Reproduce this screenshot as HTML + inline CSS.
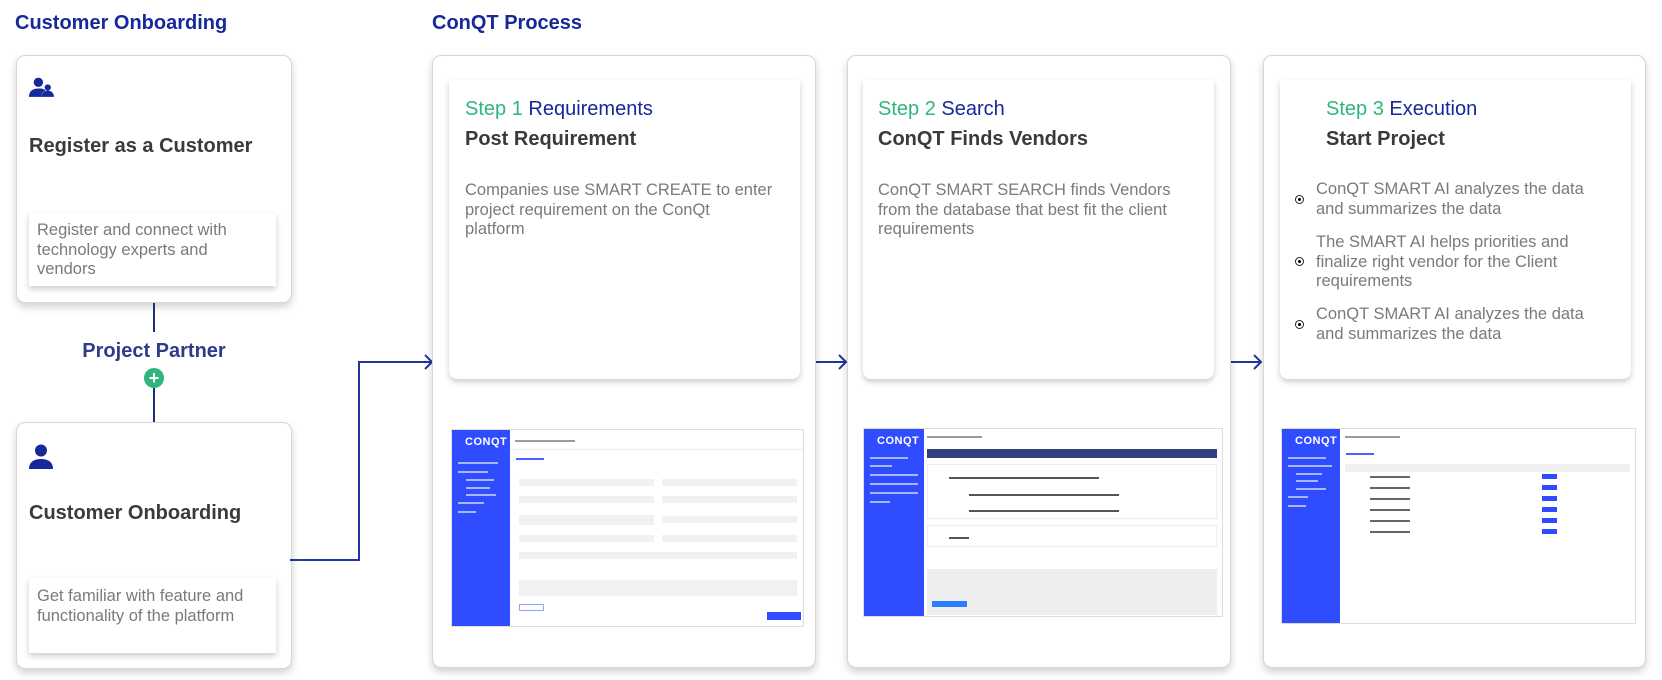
<!DOCTYPE html>
<html><head><meta charset="utf-8"><style>
*{box-sizing:border-box;margin:0;padding:0}
body{width:1662px;height:680px;background:#fff;font-family:"Liberation Sans",sans-serif;position:relative;overflow:hidden}
.a{position:absolute}
.h{color:#16299a;font-weight:bold;font-size:20px}
.card{position:absolute;background:#fff;border:1px solid #d6d6d6;border-radius:9px;box-shadow:0 4px 8px rgba(0,0,0,.18)}
.inner{position:absolute;background:#fff;box-shadow:0 3px 6px rgba(0,0,0,.2)}
.t{position:absolute;font-weight:bold;font-size:20px;color:#3a3a3a;white-space:nowrap}
.b{position:absolute;font-size:16.5px;line-height:19.5px;color:#7a7a7a}
.step{position:absolute;font-size:20px;white-space:nowrap}
.g{color:#2eb67d}.bl{color:#16299a}
.shot{position:absolute;background:#fff;border:1px solid #ddd;overflow:hidden}
.side{position:absolute;left:0;top:0;bottom:0;background:#2f4dff}
.logo{position:absolute;color:#fff;font-weight:bold;font-size:11px;letter-spacing:.5px}
.si{position:absolute;left:6px;height:2px;background:#c9d2ff;opacity:.8}
.fld{position:absolute;background:#f1f1f1;height:7px}
.lb{position:absolute;background:#ccc;height:2px}
.bul{position:absolute;width:9px;height:9px;border:1px solid #222;border-radius:50%}
.bul:after{content:"";position:absolute;left:2px;top:2px;width:3px;height:3px;background:#000;border-radius:50%}
</style></head><body>
<div class="a h" style="left:15px;top:12px">Customer Onboarding</div>
<div class="a h" style="left:432px;top:12px">ConQT Process</div>

<div class="card" style="left:16px;top:55px;width:276px;height:248px"></div>
<svg class="a" style="left:29px;top:77px" width="25" height="21" viewBox="0 0 24 20"><circle cx="9" cy="5" r="4.5" fill="#16299a"/><path d="M0 19c0-6 4-8 9-8s6 1 7 2c-3 1-4 3-4 6z" fill="#16299a"/><circle cx="18" cy="10" r="3" fill="#16299a"/><path d="M12 19c0-4 3-6 6-6s6 2 6 6z" fill="#16299a"/></svg>
<div class="t" style="left:29px;top:135px">Register as a Customer</div>
<div class="inner" style="left:29px;top:213px;width:247px;height:73px"></div>
<div class="b" style="left:37px;top:221px;width:222px">Register and connect with technology experts and vendors</div>

<div class="a" style="left:153px;top:303px;width:2px;height:29px;background:#1f2e7a"></div>
<div class="a" style="left:54px;top:340px;width:200px;text-align:center;font-weight:bold;font-size:20px;color:#2d3b8a">Project Partner</div>
<div class="a" style="left:144px;top:368px;width:20px;height:20px;border-radius:50%;background:#2eb67d;color:#fff;font-weight:bold;font-size:18px;line-height:20px;text-align:center">+</div>
<div class="a" style="left:153px;top:388px;width:2px;height:34px;background:#1f2e7a"></div>

<div class="card" style="left:16px;top:422px;width:276px;height:247px"></div>
<svg class="a" style="left:29px;top:444px" width="24" height="25" viewBox="0 0 24 25"><circle cx="12" cy="6.5" r="6" fill="#16299a"/><path d="M0 25c0-7 5-10 12-10s12 3 12 10z" fill="#16299a"/></svg>
<div class="t" style="left:29px;top:502px">Customer Onboarding</div>
<div class="inner" style="left:29px;top:578px;width:247px;height:75px"></div>
<div class="b" style="left:37px;top:587px;width:228px">Get familiar with feature and functionality of the platform</div>

<svg class="a" style="left:0;top:0" width="1662" height="680">
<polyline points="290,560 359,560 359,362 431,362" fill="none" stroke="#1f35a0" stroke-width="2"/>
<polyline points="425,355 432,362 425,369" fill="none" stroke="#1f35a0" stroke-width="2"/>
<line x1="816" y1="362" x2="846" y2="362" stroke="#1f35a0" stroke-width="2"/>
<polyline points="839,355 846,362 839,369" fill="none" stroke="#1f35a0" stroke-width="2"/>
<line x1="1231" y1="362" x2="1261" y2="362" stroke="#1f35a0" stroke-width="2"/>
<polyline points="1254,355 1261,362 1254,369" fill="none" stroke="#1f35a0" stroke-width="2"/>
</svg>

<div class="card" style="left:432px;top:55px;width:384px;height:613px"></div>
<div class="card" style="left:847px;top:55px;width:384px;height:613px"></div>
<div class="card" style="left:1263px;top:55px;width:383px;height:613px"></div>

<div class="inner" style="left:449px;top:80px;width:351px;height:299px;border-radius:0 0 8px 8px"></div>
<div class="inner" style="left:863px;top:80px;width:351px;height:299px;border-radius:0 0 8px 8px"></div>
<div class="inner" style="left:1280px;top:80px;width:351px;height:299px;border-radius:0 0 8px 8px"></div>

<div class="step" style="left:465px;top:98px"><span class="g">Step 1</span> <span class="bl">Requirements</span></div>
<div class="t" style="left:465px;top:128px">Post Requirement</div>
<div class="b" style="left:465px;top:181px;width:330px;white-space:nowrap">Companies use SMART CREATE to enter<br>project requirement on the ConQt<br>platform</div>

<div class="step" style="left:878px;top:98px"><span class="g">Step 2</span> <span class="bl">Search</span></div>
<div class="t" style="left:878px;top:128px">ConQT Finds Vendors</div>
<div class="b" style="left:878px;top:181px;width:330px;white-space:nowrap">ConQT SMART SEARCH finds Vendors<br>from the database that best fit the client<br>requirements</div>

<div class="step" style="left:1326px;top:98px"><span class="g">Step 3</span> <span class="bl">Execution</span></div>
<div class="t" style="left:1326px;top:128px">Start Project</div>
<div class="bul" style="left:1295px;top:195px"></div>
<div class="b" style="left:1316px;top:180px;width:292px">ConQT SMART AI analyzes the data and summarizes the data</div>
<div class="bul" style="left:1295px;top:257px"></div>
<div class="b" style="left:1316px;top:233px;width:292px">The SMART AI helps priorities and finalize right vendor for the Client requirements</div>
<div class="bul" style="left:1295px;top:320px"></div>
<div class="b" style="left:1316px;top:305px;width:292px">ConQT SMART AI analyzes the data and summarizes the data</div>

<div class="shot" style="left:451px;top:429px;width:353px;height:198px">
 <div class="side" style="width:58px"></div>
 <div class="logo" style="left:13px;top:6px">CONQT</div>
 <div class="si" style="top:32px;width:40px"></div><div class="si" style="top:41px;width:30px"></div><div class="si" style="top:49px;left:14px;width:28px"></div><div class="si" style="top:57px;left:14px;width:24px"></div><div class="si" style="top:64px;left:14px;width:30px"></div><div class="si" style="top:72px;width:26px"></div><div class="si" style="top:81px;width:18px"></div>
 <div class="lb" style="left:63px;top:10px;width:60px;background:#99a"></div>
 <div class="a" style="left:58px;top:19px;right:0;height:1px;background:#eee"></div>
 <div class="lb" style="left:64px;top:28px;width:28px;background:#4a62ff"></div>
 <div class="fld" style="left:67px;top:49px;width:135px"></div><div class="fld" style="left:210px;top:49px;width:135px"></div>
 <div class="fld" style="left:67px;top:66px;width:135px"></div><div class="fld" style="left:210px;top:66px;width:135px"></div>
 <div class="fld" style="left:67px;top:85px;width:135px;height:10px"></div><div class="fld" style="left:210px;top:86px;width:135px"></div>
 <div class="fld" style="left:67px;top:105px;width:135px"></div><div class="fld" style="left:210px;top:105px;width:135px"></div>
 <div class="fld" style="left:67px;top:122px;width:278px"></div>
 <div class="fld" style="left:67px;top:150px;width:278px;height:16px"></div>
 <div class="a" style="left:67px;top:174px;width:25px;height:7px;border:1px solid #8fa0ff"></div>
 <div class="a" style="left:315px;top:182px;width:34px;height:8px;background:#2f4dff"></div>
</div>

<div class="shot" style="left:863px;top:428px;width:360px;height:189px">
 <div class="side" style="width:60px"></div>
 <div class="logo" style="left:13px;top:6px">CONQT</div>
 <div class="si" style="top:28px;width:38px"></div><div class="si" style="top:36px;width:22px"></div><div class="si" style="top:45px;width:48px"></div><div class="si" style="top:54px;width:48px"></div><div class="si" style="top:63px;width:48px"></div><div class="si" style="top:72px;width:20px"></div>
 <div class="lb" style="left:63px;top:7px;width:55px;background:#99a"></div>
 <div class="a" style="left:63px;top:20px;width:290px;height:9px;background:#334080"></div>
 <div class="a" style="left:63px;top:35px;width:290px;height:55px;border:1px solid #eee"></div>
 <div class="a" style="left:63px;top:96px;width:290px;height:22px;border:1px solid #eee"></div>
 <div class="lb" style="left:85px;top:48px;width:150px;background:#555"></div>
 <div class="lb" style="left:105px;top:65px;width:150px;background:#555"></div>
 <div class="lb" style="left:105px;top:81px;width:150px;background:#555"></div>
 <div class="lb" style="left:85px;top:108px;width:20px;background:#555"></div>
 <div class="a" style="left:63px;top:140px;width:290px;height:46px;background:#eee"></div>
 <div class="a" style="left:68px;top:172px;width:35px;height:6px;background:#2f7dff"></div>
</div>

<div class="shot" style="left:1281px;top:428px;width:355px;height:196px">
 <div class="side" style="width:58px"></div>
 <div class="logo" style="left:13px;top:6px">CONQT</div>
 <div class="si" style="top:28px;width:38px"></div><div class="si" style="top:36px;width:44px"></div><div class="si" style="top:44px;left:14px;width:26px"></div><div class="si" style="top:51px;left:14px;width:22px"></div><div class="si" style="top:59px;left:14px;width:30px"></div><div class="si" style="top:67px;width:20px"></div><div class="si" style="top:76px;width:18px"></div>
 <div class="lb" style="left:63px;top:7px;width:55px;background:#99a"></div>
 <div class="lb" style="left:64px;top:24px;width:28px;background:#4a62ff"></div>
 <div class="a" style="left:63px;top:35px;width:285px;height:8px;background:#f0f0f0"></div>
 <div class="a" style="left:260px;top:45px;width:15px;height:5px;background:#2f4dff"></div>
 <div class="a" style="left:260px;top:56px;width:15px;height:5px;background:#2f4dff"></div>
 <div class="a" style="left:260px;top:67px;width:15px;height:5px;background:#2f4dff"></div>
 <div class="a" style="left:260px;top:78px;width:15px;height:5px;background:#2f4dff"></div>
 <div class="a" style="left:260px;top:89px;width:15px;height:5px;background:#2f4dff"></div>
 <div class="a" style="left:260px;top:100px;width:15px;height:5px;background:#2f4dff"></div>
 <div class="lb" style="left:88px;top:47px;width:40px;background:#666"></div>
 <div class="lb" style="left:88px;top:58px;width:40px;background:#666"></div>
 <div class="lb" style="left:88px;top:69px;width:40px;background:#666"></div>
 <div class="lb" style="left:88px;top:80px;width:40px;background:#666"></div>
 <div class="lb" style="left:88px;top:91px;width:40px;background:#666"></div>
 <div class="lb" style="left:88px;top:102px;width:40px;background:#666"></div>
</div>
</body></html>
